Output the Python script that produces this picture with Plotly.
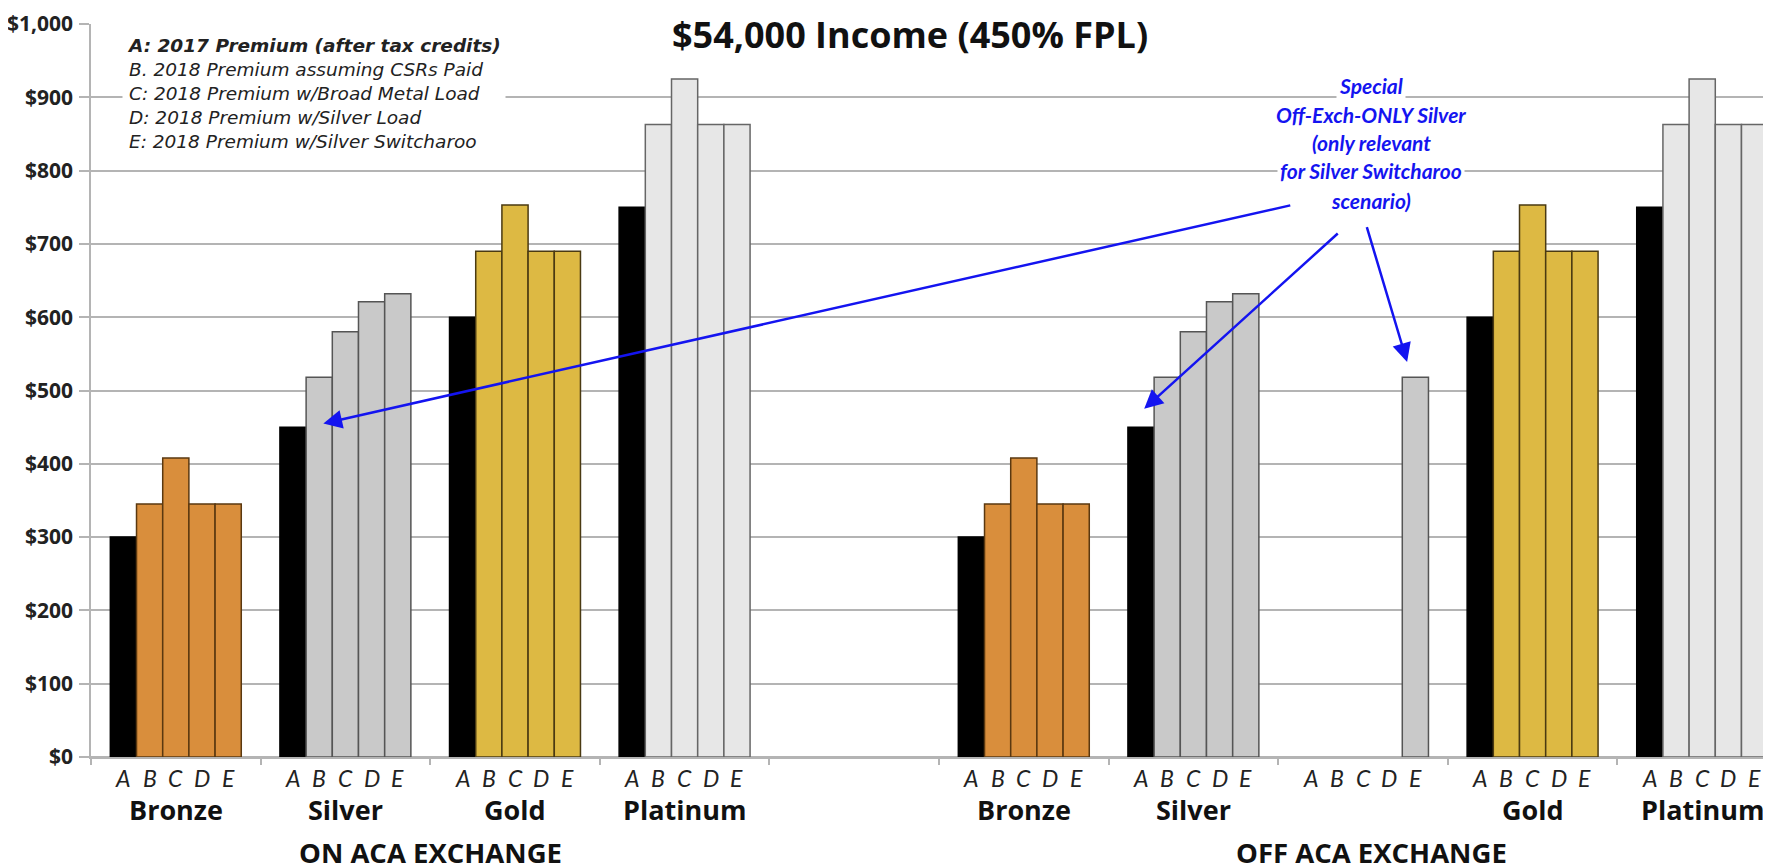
import plotly.graph_objects as go

# ---------------- data ----------------
categories = ["Bronze", "Silver", "Gold", "Platinum", "", "Bronze", "Silver", "", "Gold", "Platinum"]
metals = ["Bronze", "Silver", "Gold", "Platinum", None, "Bronze", "Silver", "Silver", "Gold", "Platinum"]
series_names = ["A", "B", "C", "D", "E"]
A = [300, 450, 600, 750, None, 300, 450, None, 600, 750]
B = [345, 518, 690, 863, None, 345, 518, None, 690, 863]
C = [408, 580, 753, 925, None, 408, 580, None, 753, 925]
D = [345, 621, 690, 863, None, 345, 621, None, 690, 863]
E = [345, 632, 690, 863, None, 345, 632, 518, 690, 863]
groups = ["ON ACA EXCHANGE", "OFF ACA EXCHANGE"]
group_centers = [1.5, 7.05]
legend_lines = [
    "<b>A: 2017 Premium (after tax credits)</b>",
    "B. 2018 Premium assuming CSRs Paid",
    "C: 2018 Premium w/Broad Metal Load",
    "D: 2018 Premium w/Silver Load",
    "E: 2018 Premium w/Silver Switcharoo",
]
note_lines = ["Special", "Off-Exch-ONLY Silver", "(only relevant", "for Silver Switcharoo", "scenario)"]
title_text = "$54,000 Income (450% FPL)"

# ---------------- styles ----------------
fill = {"Bronze": "#D98E3C", "Silver": "#C9C9C9", "Gold": "#DDB943", "Platinum": "#E7E7E7"}
edge = {"Bronze": "#5A3810", "Silver": "#555555", "Gold": "#4A3A12", "Platinum": "#666666"}
BLUE = "#1414F0"
GRID = "#B4B4B4"

x = list(range(len(categories)))
values = [A, B, C, D, E]

fig = go.Figure()
for j, (name, vals) in enumerate(zip(series_names, values)):
    if j == 0:
        colors = ["#000000"] * len(x)
        lines = ["#000000"] * len(x)
    else:
        colors = [fill[m] if m else "#ffffff" for m in metals]
        lines = [edge[m] if m else "#ffffff" for m in metals]
    fig.add_trace(go.Bar(
        x=x, y=vals, name=name,
        marker=dict(color=colors, line=dict(color=lines, width=1.5)),
        showlegend=False,
    ))

nser = len(series_names)
bargap = 0.228
bw = (1 - bargap) / nser

annotations = []
# letters under bars
for k, cat in enumerate(categories):
    if k == 4:
        continue
    for j, s in enumerate(series_names):
        annotations.append(dict(
            x=k + (j - (nser - 1) / 2) * bw, y=-0.028, xref="x", yref="paper",
            text=f"<i>{s}</i>", showarrow=False,
            font=dict(family="Lato", size=23, color="#222222"),
            xanchor="center", yanchor="middle",
        ))
    if cat:
        annotations.append(dict(
            x=k, y=-0.071, xref="x", yref="paper", text=f"<b>{cat}</b>", showarrow=False,
            font=dict(family="Open Sans", size=27, color="#111111"),
            xanchor="center", yanchor="middle",
        ))
for g, cx in zip(groups, group_centers):
    annotations.append(dict(
        x=cx, y=-0.1565, xref="x", yref="paper", text=f"<b>{g}</b>",
        showarrow=False, font=dict(family="Open Sans", size=27.5, color="#111111"),
        xanchor="center", yanchor="bottom", borderpad=0,
    ))

# title (cropped chart top)
annotations.append(dict(
    x=4.33, y=1.0205, xref="x", yref="paper", text=f"<b>{title_text}</b>", showarrow=False,
    font=dict(family="Open Sans", size=36, color="#111111"), bgcolor="#ffffff",
    xanchor="center", yanchor="top", borderpad=0,
))

# legend box
annotations.append(dict(
    x=0.0185, xref="paper", xanchor="left", y=992, yref="y", yanchor="top",
    text="<br>".join(f"<i>{l}</i>" for l in legend_lines), align="left", showarrow=False,
    font=dict(family="DejaVu Sans", size=18.5, color="#222222"), bgcolor="#ffffff", borderpad=4,
))

# blue note
note_y = [916, 877, 839, 800, 759]
for line, yy in zip(note_lines, note_y):
    annotations.append(dict(
        x=7.05, y=yy, xref="x", yref="y", text=f"<b><i>{line}</i></b>", showarrow=False,
        font=dict(family="Lato", size=21, color=BLUE), bgcolor="#ffffff",
        xanchor="center", yanchor="middle", borderpad=2,
    ))

# arrows
arrows = [((6.58, 753), (0.87, 455)), ((6.86, 716), (5.71, 475)), ((7.02, 725), (7.26, 539))]
for (sx, sy), (ex, ey) in arrows:
    annotations.append(dict(
        x=ex, y=ey, ax=sx, ay=sy, xref="x", yref="y", axref="x", ayref="y",
        showarrow=True, arrowhead=2, arrowsize=1.5, arrowwidth=2.5, arrowcolor=BLUE, text="",
    ))

left = 83
plot_w = 1771 - left
cat_px = 169.6
fig.update_layout(
    width=1771, height=868,
    margin=dict(l=left, r=0, t=16, b=119, autoexpand=False),
    paper_bgcolor="#ffffff", plot_bgcolor="#ffffff",
    barmode="group", bargap=bargap, bargroupgap=0,
    annotations=annotations,
    xaxis=dict(
        range=[-0.5, -0.5 + plot_w / cat_px], automargin=False,
        tickvals=[k - 0.5 for k in range(len(categories) + 1)],
        showticklabels=False, ticks="outside", ticklen=6, tickcolor=GRID, tickwidth=1.5,
        showgrid=False, showline=True, linecolor=GRID, linewidth=1.5, zeroline=False,
    ),
    yaxis=dict(
        range=[0, 1000], dtick=100, tickprefix="$", tickformat=",", automargin=False,
        showgrid=True, gridcolor=GRID, gridwidth=1.5,
        showline=True, linecolor=GRID, linewidth=1.5,
        ticks="outside", ticklen=10, tickcolor=GRID, tickwidth=1.5, ticklabelstandoff=2,
        zeroline=True, zerolinecolor=GRID, zerolinewidth=1.5,
        tickfont=dict(family="Open Sans", size=21, color="#222222", weight="bold"),
    ),
)

fig.write_html("out.html")
